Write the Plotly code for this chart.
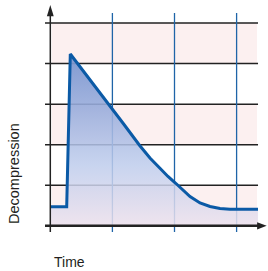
import plotly.graph_objects as go

# ---- data ----
time_pts = [0.0, 0.264, 0.322, 0.639, 0.950, 1.187, 1.433, 1.605, 1.766, 1.895,
            2.024, 2.137, 2.250, 2.411, 2.572, 2.733, 2.894, 3.345]
decomp_pts = [0.471, 0.471, 4.237, 3.608, 2.986, 2.498, 1.993, 1.672, 1.418, 1.216,
              1.043, 0.871, 0.723, 0.562, 0.476, 0.427, 0.409, 0.407]
level_lines = [1, 2, 3, 4, 5]          # horizontal grid levels
pink_bands = [(0, 1), (2, 3), (4, 5)]  # shaded bands
time_marks = [1, 2, 3]                 # vertical blue lines
x_label = "Time"
y_label = "Decompression"

# ---- style ----
LINE_BLUE = "#0b5aa6"
VLINE_BLUE = "#1f64a8"
GRID = "#222222"
PINK = "#fcf0f0"
FONT = "Liberation Sans, Arial, sans-serif"

X_MIN, X_MAX = -0.1659, 3.5056
Y_MIN, Y_MAX = -0.3502, 5.5684

fig = go.Figure()

fig.add_trace(go.Scatter(
    x=time_pts, y=decomp_pts, mode="lines",
    line=dict(color=LINE_BLUE, width=3),
    fill="tozeroy",
    fillgradient=dict(
        type="vertical", start=0, stop=4.3,
        colorscale=[[0, "rgba(236,226,238,0.85)"],
                    [0.35, "rgba(190,204,236,0.85)"],
                    [0.7, "rgba(150,170,218,0.9)"],
                    [1, "rgba(118,146,205,0.95)"]],
    ),
    hoverinfo="skip", showlegend=False,
))

shapes = []
# pink bands
for y0, y1 in pink_bands:
    shapes.append(dict(type="rect", xref="x", yref="y", x0=0.023, x1=3.329, y0=y0, y1=y1,
                       fillcolor=PINK, line=dict(width=0), layer="below"))
# horizontal grid lines
for lv in level_lines:
    shapes.append(dict(type="line", xref="x", yref="y", x0=-0.0853, x1=3.345, y0=lv, y1=lv,
                       line=dict(color=GRID, width=1.5), layer="below"))
# vertical blue lines
for tm in time_marks:
    shapes.append(dict(type="line", xref="x", yref="y", x0=tm, x1=tm, y0=-0.153, y1=5.248,
                       line=dict(color=VLINE_BLUE, width=1.3), layer="below"))
# y axis
shapes.append(dict(type="line", xref="x", yref="y", x0=0, x1=0, y0=-0.153, y1=5.3,
                   line=dict(color=GRID, width=1.5)))
shapes.append(dict(type="path", xref="x", yref="y",
                   path="M -0.055 5.17 L 0 5.445 L 0.055 5.17 Z",
                   fillcolor=GRID, line=dict(width=0)))
# x axis
shapes.append(dict(type="line", xref="x", yref="y", x0=-0.0853, x1=3.40, y0=0, y1=0,
                   line=dict(color=GRID, width=2.6)))
shapes.append(dict(type="path", xref="x", yref="y",
                   path="M 3.33 0.09 L 3.485 0 L 3.33 -0.09 Z",
                   fillcolor=GRID, line=dict(width=0)))

fig.update_layout(
    width=268, height=271,
    margin=dict(l=40, r=0, t=0, b=31),
    paper_bgcolor="white", plot_bgcolor="white",
    xaxis=dict(range=[X_MIN, X_MAX], visible=False, fixedrange=True),
    yaxis=dict(range=[Y_MIN, Y_MAX], visible=False, fixedrange=True),
    shapes=shapes,
    annotations=[
        dict(text=y_label, xref="paper", yref="paper", x=-0.114, y=0.275,
             textangle=-90, showarrow=False, xanchor="center", yanchor="middle",
             font=dict(family=FONT, size=14.5, color="#231f20")),
        dict(text=x_label, xref="paper", yref="paper", x=0.0526, y=-0.0917,
             showarrow=False, xanchor="left", yanchor="middle",
             font=dict(family=FONT, size=14, color="#231f20")),
    ],
)

fig.write_html("out.html", config={"displayModeBar": False},
               post_script="document.body.style.margin='0';document.body.style.overflow='hidden';")
